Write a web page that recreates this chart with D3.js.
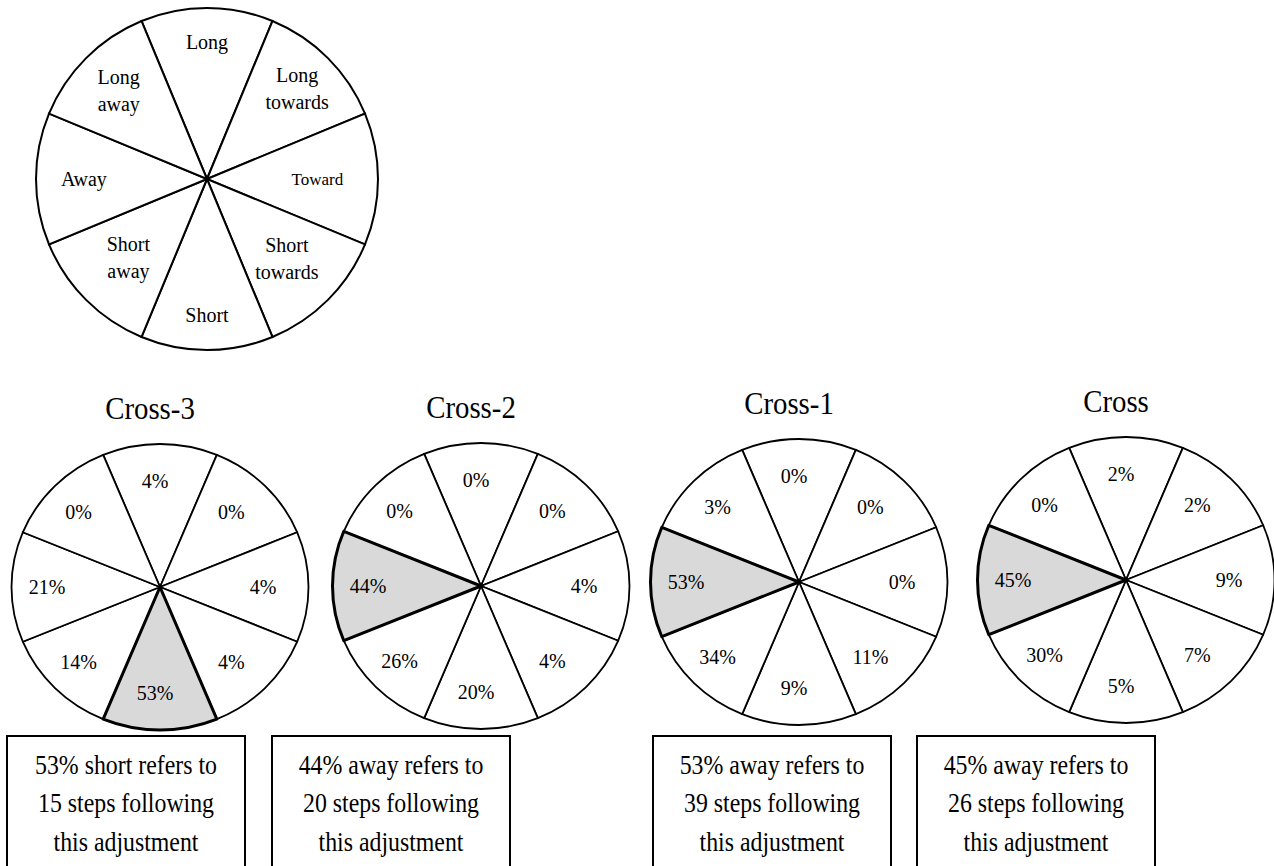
<!DOCTYPE html>
<html>
<head>
<meta charset="utf-8">
<script src="https://cdn.jsdelivr.net/npm/d3@7"></script>
<style>
  body { margin: 0; background: white; }
</style>
</head>
<body>
<div id="graph-container"></div>
<script>
// sectors, clockwise from the top
const directions = ['Long', 'Long towards', 'Toward', 'Short towards', 'Short', 'Short away', 'Away', 'Long away']

const panels = ['Cross-3', 'Cross-2', 'Cross-1', 'Cross']
const cross3Values = [4, 0, 4, 4, 53, 14, 21, 0]
const cross2Values = [0, 0, 4, 4, 20, 26, 44, 0]
const cross1Values = [0, 0, 0, 11, 9, 34, 53, 3]
const crossValues = [2, 2, 9, 7, 5, 30, 45, 0]
const highlighted = ['Short', 'Away', 'Away', 'Away']
const followingSteps = [15, 20, 39, 26]

const main = () => {
  const panelValues = [cross3Values, cross2Values, cross1Values, crossValues]
  const width = 1274
  const height = 866
  const dataToJoin = [1]
  const FONT = "'Liberation Serif', 'Times New Roman', serif"
  const HIGHLIGHT_FILL = '#d9d9d9'

  // layout
  const key = { cx: 207, cy: 179, r: 171 }
  const keyLabelR = [0.80, 0.745, 0.645, 0.66, 0.80, 0.65, 0.72, 0.73]
  const pieX = [160, 481, 799, 1126]
  const pieY = [587, 586, 582, 580]
  const rx = 148.5
  const ry = 143
  const boxLeft = [7, 272, 653, 917]
  const boxTop = 736
  const boxWidth = 238
  const lineGap = 38.3

  const svg = d3.select('#graph-container').selectAll('svg#svg-container')
    .data(dataToJoin)
    .join('svg')
    .attr('id', 'svg-container')
    .attr('width', width)
    .attr('height', height)
    .attr('style', 'background:white')

  const pie = d3.pie()
    .value(() => 1)
    .sort(null)
    .startAngle(-Math.PI / 8)
    .endAngle(2 * Math.PI - Math.PI / 8)

  const sectors = pie(directions)

  // key circle
  const keyArc = d3.arc().innerRadius(0).outerRadius(key.r)
  const keyGroup = svg.selectAll('g#key')
    .data(dataToJoin)
    .join('g')
    .attr('id', 'key')
    .attr('transform', `translate(${key.cx},${key.cy})`)

  keyGroup.selectAll('path.key-sector')
    .data(sectors)
    .join('path')
    .attr('class', 'key-sector')
    .attr('d', keyArc)
    .attr('fill', 'white')
    .attr('stroke', 'black')
    .attr('stroke-width', 2)

  const keyLabels = keyGroup.selectAll('text.key-label')
    .data(sectors)
    .join('text')
    .attr('class', 'key-label')
    .attr('font-family', FONT)
    .attr('font-size', (d) => d.data === 'Toward' ? 17 : 20)
    .attr('fill', 'black')
    .attr('text-anchor', 'middle')
    .attr('transform', (d, i) => {
      const a = (d.startAngle + d.endAngle) / 2
      const lr = key.r * keyLabelR[i]
      return `translate(${lr * Math.sin(a)},${-lr * Math.cos(a)})`
    })

  keyLabels.selectAll('tspan')
    .data((d) => {
      const lines = d.data.split(' ')
      return lines.map((t, j) => ({ t, dy: (j - (lines.length - 1) / 2) * 27 }))
    })
    .join('tspan')
    .attr('x', 0)
    .attr('y', (d) => d.dy)
    .attr('dy', '0.33em')
    .text((d) => d.t)

  // one pie per crossing
  const pieArc = d3.arc().innerRadius(0).outerRadius(ry)

  panels.forEach((name, p) => {
    const values = panelValues[p]
    const cx = pieX[p]
    const cy = pieY[p]
    const panel = svg.selectAll(`g#panel-${p}`)
      .data(dataToJoin)
      .join('g')
      .attr('id', `panel-${p}`)

    panel.selectAll('text.panel-title')
      .data(dataToJoin)
      .join('text')
      .attr('class', 'panel-title')
      .attr('font-family', FONT)
      .attr('font-size', 32)
      .attr('text-anchor', 'middle')
      .attr('transform', `translate(${cx - 10},${cy - 168}) scale(0.9,1)`)
      .text(name)

    // highlighted sector last so its heavier outline sits on top
    const ordered = sectors.slice().sort((a, b) =>
      (a.data === highlighted[p]) - (b.data === highlighted[p]))

    panel.selectAll('g.pie-body')
      .data(dataToJoin)
      .join('g')
      .attr('class', 'pie-body')
      .attr('transform', `translate(${cx},${cy}) scale(${rx / ry},1)`)
      .selectAll('path.sector')
      .data(ordered)
      .join('path')
      .attr('class', 'sector')
      .attr('d', pieArc)
      .attr('fill', (d) => d.data === highlighted[p] ? HIGHLIGHT_FILL : 'white')
      .attr('stroke', 'black')
      .attr('stroke-width', (d) => d.data === highlighted[p] ? 3 : 1.8)
      .attr('stroke-linejoin', 'round')
      .attr('vector-effect', 'non-scaling-stroke')

    panel.selectAll('text.sector-label')
      .data(sectors)
      .join('text')
      .attr('class', 'sector-label')
      .attr('font-family', FONT)
      .attr('font-size', 20)
      .attr('text-anchor', 'middle')
      .attr('dy', '0.33em')
      .attr('x', (d) => cx - 5 + 108 * Math.sin((d.startAngle + d.endAngle) / 2))
      .attr('y', (d) => cy - 106 * Math.cos((d.startAngle + d.endAngle) / 2))
      .text((d, i) => `${values[i]}%`)

    // note box
    const share = values[directions.indexOf(highlighted[p])]
    const noteLines = [
      `${share}% ${highlighted[p].toLowerCase()} refers to`,
      `${followingSteps[p]} steps following`,
      'this adjustment'
    ]

    panel.selectAll('rect.note-box')
      .data(dataToJoin)
      .join('rect')
      .attr('class', 'note-box')
      .attr('x', boxLeft[p])
      .attr('y', boxTop)
      .attr('width', boxWidth)
      .attr('height', 160)
      .attr('fill', 'white')
      .attr('stroke', 'black')
      .attr('stroke-width', 2)

    panel.selectAll('text.note-text')
      .data(noteLines)
      .join('text')
      .attr('class', 'note-text')
      .attr('font-family', FONT)
      .attr('font-size', 26.5)
      .attr('text-anchor', 'middle')
      .attr('transform', (d, i) =>
        `translate(${boxLeft[p] + boxWidth / 2},${boxTop + 38 + i * lineGap}) scale(0.9,1)`)
      .text((d) => d)
  })
}

main()
</script>
</body>
</html>
